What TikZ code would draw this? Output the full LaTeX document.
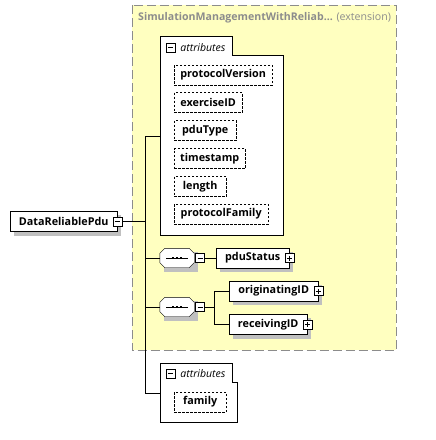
\documentclass[tikz,border=0pt]{standalone}
\usepackage{fontspec}
\setmainfont{Open Sans}
\usepackage{tikz}
\usetikzlibrary{positioning,calc,backgrounds}
\definecolor{extyellow}{HTML}{FFFFC0}
\definecolor{extborder}{HTML}{8C8C8C}
\definecolor{shadowgray}{HTML}{C0C0C0}

\tikzset{
	elem/.style={draw,rectangle,fill=white,font=\fontsize{10.8}{12}\selectfont\bfseries,minimum height=20pt,inner sep=0pt,anchor=west},
	attr/.style={elem,dash pattern=on 2.5pt off 1.5pt},
	signbox/.style={draw,rectangle,fill=white,minimum width=9pt,minimum height=9pt,inner sep=0pt},
	minusbox/.style={signbox,path picture={
			\draw ([xshift=2pt]path picture bounding box.west) -- ([xshift=-2pt]path picture bounding box.east);}},
	plusbox/.style={signbox,path picture={
			\draw ([xshift=2pt]path picture bounding box.west) -- ([xshift=-2pt]path picture bounding box.east);
			\draw ([yshift=-2pt]path picture bounding box.north) -- ([yshift=2pt]path picture bounding box.south);}},
	seqbox/.style={rectangle,minimum width=34pt,minimum height=19pt,inner sep=0pt},
	grouplabel/.style={font=\fontsize{10.5}{12}\selectfont\itshape,anchor=west,inner sep=0pt}
}
% octagon of a sequence, drawn on its node
\newcommand{\seqshape}[1]{%
	\draw[fill=white] ([xshift=5pt]#1.north west) -- ([xshift=-5pt]#1.north east) -- ([yshift=-5pt]#1.north east)
		-- ([yshift=5pt]#1.south east) -- ([xshift=-5pt]#1.south east) -- ([xshift=5pt]#1.south west)
		-- ([yshift=5pt]#1.south west) -- ([yshift=-5pt]#1.north west) -- cycle;
	\draw ([xshift=-11pt]#1.center) -- ([xshift=11pt]#1.center);
	\foreach \dx in {-4,0,4} {\fill ($(#1.center)+(\dx-1.2,-1.2)$) rectangle ++(2.4,2.4);}}

\begin{document}
\begin{tikzpicture}[x=1pt,y=-1pt]
	\useasboundingbox (0,0) rectangle (436,440);
	
	% Extension
	\node[anchor=north west,inner sep=0pt,minimum width=264pt,minimum height=345pt] (ext) at (132,5) {};
	\node[anchor=west,inner sep=0pt,text=extborder,font=\fontsize{10.6}{12}\selectfont] (exttitle) at (138,18) {\textbf{SimulationManagementWithReliab...} (extension)};
	
	% Root element
	\node[elem,minimum width=107pt] (root) at (10,221.5) {DataReliablePdu\hspace{5pt}};
	\node[minusbox] (rootminus) at (root.east) {};
	
	% Attributes (extension)
	\draw[fill=white] (160,36) -- (232,36) -- (232,55) -- (283,55) -- (283,235) -- (160,235) -- cycle;
	\coordinate (attrsA) at (160,136);
	\node[minusbox] (attrsAminus) at (170.5,47.5) {};
	\node[grouplabel,right=5pt of attrsAminus] (attrsAlabel) {attributes};
	\node[attr,minimum width=98pt] (protocolVersion) at (174,75) {protocolVersion};
	\node[attr,minimum width=68pt] (exerciseID) at (174,102.5) {exerciseID};
	\node[attr,minimum width=62pt] (pduType) at (174,130.5) {pduType};
	\node[attr,minimum width=71pt] (timestamp) at (174,158.5) {timestamp};
	\node[attr,minimum width=52pt] (length) at (174,186.5) {length};
	\node[attr,minimum width=94pt] (protocolFamily) at (174,214) {protocolFamily};
	
	% Sequence 1
	\node[seqbox] (seqA) at (177,258) {};
	\seqshape{seqA}
	\node[minusbox] (seqAminus) at (200,258) {};
	\node[elem,minimum width=73pt] (pduStatus) at (216,258) {pduStatus\hspace{5pt}};
	\node[plusbox] (pduStatusplus) at (pduStatus.east) {};
	
	% Sequence 2
	\node[seqbox] (seqB) at (177,307) {};
	\seqshape{seqB}
	\node[minusbox] (seqBminus) at (200,307) {};
	\node[elem,minimum width=89pt] (originatingID) at (229,291) {originatingID\hspace{5pt}};
	\node[plusbox] (originatingIDplus) at (originatingID.east) {};
	\node[elem,minimum width=78pt] (receivingID) at (229,324.5) {receivingID\hspace{5pt}};
	\node[plusbox] (receivingIDplus) at (receivingID.east) {};
	
	% Attributes (own)
	\draw[fill=white] (160,363) -- (232,363) -- (232,382) -- (237,382) -- (237,422) -- (160,422) -- cycle;
	\coordinate (attrsB) at (160,393);
	\node[minusbox] (attrsBminus) at (170.5,373.5) {};
	\node[grouplabel,right=5pt of attrsBminus] (attrsBlabel) {attributes};
	\node[attr,minimum width=52pt] (family) at (174,402) {family};
	
	% Connectors
	\coordinate (spine) at (145,0);
	\draw (attrsA) -- (attrsA -| spine) -- (attrsB -| spine) -- (attrsB);
	\draw (rootminus.east) -- (rootminus.east -| spine);
	\draw (seqA.west) -- (seqA.west -| spine);
	\draw (seqB.west) -- (seqB.west -| spine);
	\draw (seqAminus.east) -- (pduStatus.west);
	\draw (seqBminus.east) -- ++(9,0) coordinate (fork);
	\draw (fork) |- (originatingID.west);
	\draw (fork) |- (receivingID.west);
	
	% Yellow extension and shadows behind everything
	\begin{scope}[on background layer]
		\draw[draw=extborder,dash pattern=on 9pt off 4pt,fill=extyellow] (ext.north west) rectangle (ext.south east);
		\foreach \n in {root,protocolVersion,exerciseID,pduType,timestamp,length,protocolFamily,seqA,seqB,pduStatus,originatingID,receivingID,family}
			\fill[shadowgray] ([shift={(4,4)}]\n.south west) rectangle ([shift={(4,4)}]\n.north east);
	\end{scope}
	
\end{tikzpicture}
\end{document}
